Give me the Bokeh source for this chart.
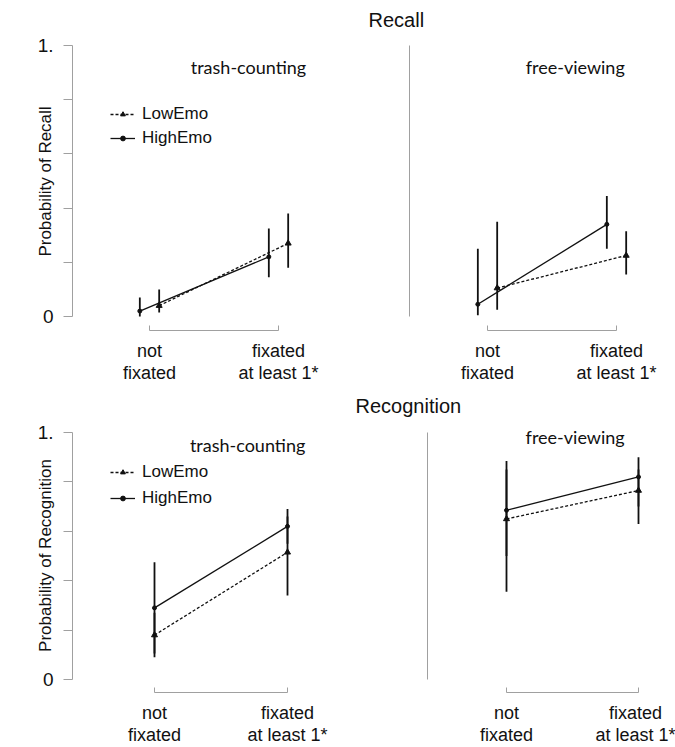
from bokeh.plotting import figure
from bokeh.layouts import column, row
from bokeh.models import (ColumnDataSource, Range1d, FixedTicker, CustomJSTickFormatter,
                          Legend, LegendItem, Label)
from bokeh.transform import dodge
from bokeh.embed import file_html
from bokeh.resources import INLINE

# ---------------- data ----------------
categories = ["not\nfixated", "fixated\nat least 1*"]
cat_pos = [1, 2]
series_names = ["LowEmo", "HighEmo"]
conditions = ["trash-counting", "free-viewing"]
measures = ["Recall", "Recognition"]
y_ticks = [0, 0.2, 0.4, 0.6, 0.8, 1.0]

# Recall, trash-counting
recall_tc_low = [0.04, 0.27]
recall_tc_low_lo = [0.015, 0.18]
recall_tc_low_hi = [0.10, 0.38]
recall_tc_high = [0.02, 0.22]
recall_tc_high_lo = [0.0, 0.145]
recall_tc_high_hi = [0.07, 0.325]
# Recall, free-viewing
recall_fv_low = [0.105, 0.225]
recall_fv_low_lo = [0.025, 0.155]
recall_fv_low_hi = [0.35, 0.315]
recall_fv_high = [0.045, 0.34]
recall_fv_high_lo = [0.005, 0.25]
recall_fv_high_hi = [0.25, 0.445]
# Recognition, trash-counting
recog_tc_low = [0.18, 0.515]
recog_tc_low_lo = [0.09, 0.34]
recog_tc_low_hi = [0.27, 0.66]
recog_tc_high = [0.29, 0.62]
recog_tc_high_lo = [0.105, 0.55]
recog_tc_high_hi = [0.475, 0.69]
# Recognition, free-viewing
recog_fv_low = [0.65, 0.765]
recog_fv_low_lo = [0.355, 0.63]
recog_fv_low_hi = [0.85, 0.85]
recog_fv_high = [0.685, 0.82]
recog_fv_high_lo = [0.50, 0.70]
recog_fv_high_hi = [0.885, 0.90]

FONT = "Liberation Sans"
PANEL_FONT = "Lato"
GRAY = "#a0a0a0"
INK = "#111111"


def make_panel(width, height, xr, yr, borders, left, measure, cond, low, high,
               offset, label_xy, legend_loc=None, legend_spacing=4, title_offset=None):
    mbl, mbr, mbt, mbb = borders
    p = figure(width=width, height=height, x_range=Range1d(*xr), y_range=Range1d(*yr),
               output_backend="svg", toolbar_location=None,
               min_border_left=mbl, min_border_right=mbr,
               min_border_top=mbt, min_border_bottom=mbb)
    p.grid.visible = False
    p.outline_line_color = None
    p.background_fill_color = "white"
    p.border_fill_color = "white"

    if title_offset is not None:
        p.title.text = measure
        p.title.align = "left"
        p.title.offset = title_offset
        p.title.vertical_align = "top"
        p.title.standoff = 0
        p.title.text_font = FONT
        p.title.text_font_size = "20px"
        p.title.text_font_style = "normal"
        p.title.text_color = INK
    else:
        p.title.visible = False

    # x axis: bracket between the two categories
    xa = p.xaxis[0]
    xa.ticker = FixedTicker(ticks=cat_pos)
    xa.formatter = CustomJSTickFormatter(args=dict(labels=categories),
                                         code="const i = Math.round(tick) - 1; return (i >= 0 && i < labels.length) ? labels[i] : '';")
    xa.bounds = (cat_pos[0], cat_pos[-1])
    xa.major_tick_in = 5
    xa.major_tick_out = 0
    xa.minor_tick_line_color = None
    xa.axis_line_color = GRAY
    xa.major_tick_line_color = GRAY
    xa.major_label_text_font = FONT
    xa.major_label_text_font_size = "18px"
    xa.major_label_text_line_height = 1.1
    xa.major_label_text_color = INK
    xa.major_label_standoff = 10

    ya = p.yaxis[0]
    ya.ticker = FixedTicker(ticks=y_ticks)
    ya.bounds = (0, 1)
    ya.minor_tick_line_color = None
    ya.axis_line_color = GRAY
    if left:
        ya.formatter = CustomJSTickFormatter(
            code="if (Math.abs(tick) < 1e-9) return '0'; if (Math.abs(tick - 1) < 1e-9) return '1.'; return '';")
        ya.major_tick_out = 9
        ya.major_tick_in = 0
        ya.major_tick_line_color = GRAY
        ya.major_label_text_font = FONT
        ya.major_label_text_font_size = "19px"
        ya.major_label_text_color = INK
        ya.major_label_standoff = 10
        ya.major_label_orientation = "horizontal"
        ya.axis_label = "Probability of " + measure
        ya.axis_label_text_font = FONT
        ya.axis_label_text_font_size = "17px"
        ya.axis_label_text_font_style = "normal"
        ya.axis_label_text_color = INK
        ya.axis_label_standoff = -20
    else:
        ya.formatter = CustomJSTickFormatter(code="return '';")
        ya.major_tick_out = 0
        ya.major_tick_in = 0
        ya.major_tick_line_color = None
        ya.major_label_text_font_size = "1px"

    renderers = {}
    for name, vals, off, dash, marker, msize in [
        ("LowEmo", low, offset, "3 2", "triangle", 6),
        ("HighEmo", high, -offset, "solid", "circle", 4),
    ]:
        y, lo, hi = vals
        src = ColumnDataSource(dict(x=cat_pos, y=y, lo=lo, hi=hi))
        xd = dodge("x", off)
        p.segment(x0=xd, y0="lo", x1=xd, y1="hi", source=src, line_color=INK, line_width=1.8)
        ln = p.line(x=xd, y="y", source=src, line_color=INK, line_width=1.3, line_dash=dash)
        pt = p.scatter(x=xd, y="y", source=src, marker=marker, size=msize,
                       fill_color=INK, line_color=INK)
        renderers[name] = (ln, pt)

    p.add_layout(Label(x=label_xy[0], y=label_xy[1], text=cond, text_align="center",
                       text_baseline="middle", text_font=PANEL_FONT, text_font_size="18px",
                       text_color=INK))

    if legend_loc is not None:
        items = [LegendItem(label=n, renderers=list(renderers[n])) for n in series_names]
        lg = Legend(items=items, location=legend_loc, padding=0, margin=0,
                    spacing=legend_spacing, glyph_width=25, glyph_height=12, label_height=20,
                    label_standoff=7, label_text_font=FONT, label_text_font_size="17px",
                    label_text_color=INK, background_fill_alpha=0, border_line_color=None)
        p.add_layout(lg)
    return p


# layout (page px, content starts at 0,0): left figs 0..340, right figs 340..675
W_L, W_R = 340, 335
H_T, H_B = 385, 362

p1 = make_panel(W_L, H_T, (0.4031, 2.4186), (-0.0517, 1.0480), (72, 8, 32, 55), True,
                measures[0], conditions[0],
                (recall_tc_low, recall_tc_low_lo, recall_tc_low_hi),
                (recall_tc_high, recall_tc_high_lo, recall_tc_high_hi),
                0.075, (1.767, 0.92), legend_loc=(38, 182), legend_spacing=4)
p2 = make_panel(W_R, H_T, (0.3953, 2.3643), (-0.0517, 1.0480), (69, 12, 32, 55), False,
                measures[0], conditions[1],
                (recall_fv_low, recall_fv_low_lo, recall_fv_low_hi),
                (recall_fv_high, recall_fv_high_lo, recall_fv_high_hi),
                0.075, (1.68, 0.919), title_offset=-41)
p3 = make_panel(W_L, H_B, (0.3835, 2.3383), (-0.0524, 1.0565), (72, 8, 33, 54), True,
                measures[1], conditions[0],
                (recog_tc_low, recog_tc_low_lo, recog_tc_low_hi),
                (recog_tc_high, recog_tc_high_lo, recog_tc_high_hi),
                0.0, (1.70, 0.948), legend_loc=(38, 184), legend_spacing=6)
p4 = make_panel(W_R, H_B, (0.4015, 2.1894), (-0.0524, 1.0565), (87, 12, 33, 54), False,
                measures[1], conditions[1],
                (recog_fv_low, recog_fv_low_lo, recog_fv_low_hi),
                (recog_fv_high, recog_fv_high_lo, recog_fv_high_hi),
                0.0, (1.52, 0.98), title_offset=-72)

layout = column(row(p1, p2), row(p3, p4))
open("out.html", "w").write(file_html(layout, INLINE))
